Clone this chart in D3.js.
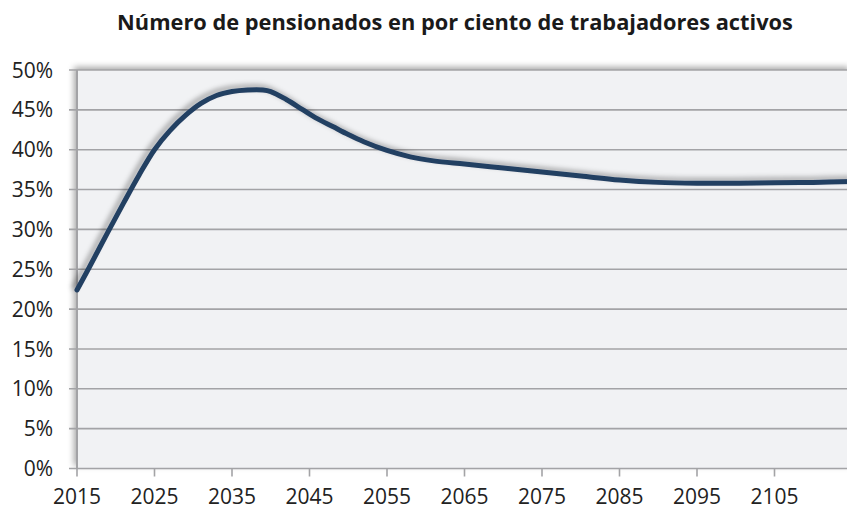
<!DOCTYPE html>
<html>
<head>
<meta charset="utf-8">
<script src="https://cdn.jsdelivr.net/npm/d3@7"></script>
<style>
  body { margin: 0; background: #fff; }
  svg { display: block; }
</style>
</head>
<body>
<div id="chart"></div>
<script>
var title = "Número de pensionados en por ciento de trabajadores activos";

// years and share of pensioners (%)
var years = [2015, 2017, 2019, 2021, 2023, 2025, 2027, 2029, 2031, 2033, 2035, 2037, 2039, 2040, 2042, 2044, 2046, 2048, 2050, 2052, 2055, 2058, 2061, 2065, 2070, 2075, 2080, 2085, 2090, 2095, 2100, 2105, 2110, 2115];
var values = [22.4, 26.0, 29.7, 33.3, 36.8, 40.0, 42.4, 44.3, 45.8, 46.8, 47.3, 47.5, 47.5, 47.3, 46.3, 45.1, 43.9, 42.9, 41.9, 41.0, 39.9, 39.1, 38.6, 38.2, 37.7, 37.2, 36.7, 36.2, 35.9, 35.8, 35.8, 35.85, 35.9, 36.0];
var yTicks = [0, 5, 10, 15, 20, 25, 30, 35, 40, 45, 50];
var xTicks = [2015, 2025, 2035, 2045, 2055, 2065, 2075, 2085, 2095, 2105];

var width = 847, height = 511;
var margin = { top: 70, left: 77, bottom: 43 };
var plotRight = 852;

var svg = d3.select("#chart").append("svg")
  .attr("width", width)
  .attr("height", height)
  .style("font-family", "'Open Sans', sans-serif");

var defs = svg.append("defs");
var sh = defs.append("filter").attr("id", "shadow")
  .attr("x", "-5%").attr("y", "-10%").attr("width", "110%").attr("height", "120%");
sh.append("feDropShadow").attr("dx", -3).attr("dy", -3).attr("stdDeviation", 3)
  .attr("flood-color", "#000").attr("flood-opacity", 0.35);
var lsh = defs.append("filter").attr("id", "lshadow")
  .attr("x", "-5%").attr("y", "-20%").attr("width", "110%").attr("height", "140%");
lsh.append("feDropShadow").attr("dx", -3).attr("dy", -3).attr("stdDeviation", 2.5)
  .attr("flood-color", "#000").attr("flood-opacity", 0.3);

var x = d3.scaleLinear().domain([2015, 2115]).range([margin.left, plotRight]);
var y = d3.scaleLinear().domain([0, 50]).range([height - margin.bottom + 0.5, margin.top]);

// title
svg.append("text")
  .attr("x", 455).attr("y", 30)
  .attr("text-anchor", "middle")
  .style("font-weight", "bold")
  .style("font-size", "21.8px")
  .style("fill", "#1a1a1a")
  .text(title);

// plot background
svg.append("rect")
  .attr("x", margin.left).attr("y", y(50))
  .attr("width", plotRight - margin.left).attr("height", y(0) - y(50))
  .attr("fill", "#f1f2f4")
  .attr("filter", "url(#shadow)");

// gridlines
svg.append("g").selectAll("line")
  .data(yTicks)
  .enter().append("line")
  .attr("x1", margin.left - 8).attr("x2", plotRight)
  .attr("y1", function(d) { return y(d); })
  .attr("y2", function(d) { return y(d); })
  .attr("stroke", "#a3a3a6")
  .attr("stroke-width", 1.6);

// x ticks
svg.append("g").selectAll("line")
  .data(xTicks)
  .enter().append("line")
  .attr("x1", function(d) { return x(d); })
  .attr("x2", function(d) { return x(d); })
  .attr("y1", y(0)).attr("y2", y(0) + 8)
  .attr("stroke", "#a3a3a6")
  .attr("stroke-width", 1.6);

// left axis line
svg.append("line")
  .attr("x1", margin.left).attr("x2", margin.left)
  .attr("y1", y(50)).attr("y2", y(0))
  .attr("stroke", "#a3a3a6")
  .attr("stroke-width", 2);

// y labels
svg.append("g").selectAll("text")
  .data(yTicks)
  .enter().append("text")
  .attr("x", 53)
  .attr("y", function(d) { return y(d); })
  .attr("dy", "0.36em")
  .attr("text-anchor", "end")
  .style("font-size", "21px")
  .style("fill", "#222")
  .text(function(d) { return d + "%"; });

// x labels
svg.append("g").selectAll("text")
  .data(xTicks)
  .enter().append("text")
  .attr("x", function(d) { return x(d); })
  .attr("y", 504)
  .attr("text-anchor", "middle")
  .style("font-size", "21px")
  .style("fill", "#222")
  .text(function(d) { return d; });

// series
var pts = years.map(function(yr, i) { return [yr, values[i]]; });
var line = d3.line()
  .x(function(d) { return x(d[0]); })
  .y(function(d) { return y(d[1]); })
  .curve(d3.curveCatmullRom.alpha(0.5));

svg.append("path")
  .datum(pts)
  .attr("d", line)
  .attr("fill", "none")
  .attr("stroke", "#243f62")
  .attr("stroke-width", 5)
  .attr("stroke-linecap", "round")
  .attr("stroke-linejoin", "round")
  .attr("filter", "url(#lshadow)");
</script>
</body>
</html>
